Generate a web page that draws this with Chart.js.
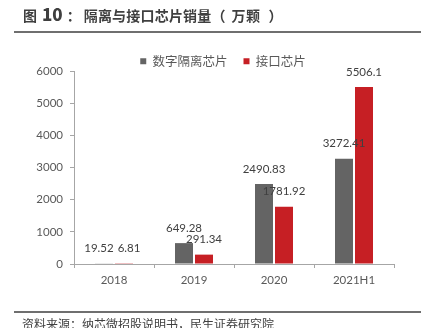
<!DOCTYPE html>
<html>
<head>
<meta charset="utf-8">
<script src="https://cdn.jsdelivr.net/npm/chart.js@4/dist/chart.umd.min.js"></script>
<style>
  html, body { margin: 0; padding: 0; background: #fff; }
  body { width: 432px; height: 328px; position: relative; overflow: hidden; }
  #title { position: absolute; left: 23px; top: 4px; font: bold 14px "Noto Sans CJK SC", sans-serif; color: #3f3f3f; white-space: nowrap; line-height: 20px; }
  #title span { display: inline-block; }
  .rule { position: absolute; left: 14px; width: 407px; height: 2px; background: #6f6f6f; }
  #source { position: absolute; left: 22px; top: 315px; font: 12px "Noto Sans CJK SC", sans-serif; color: #404040; white-space: nowrap; }
  #wrap { position: absolute; left: 0; top: 0; width: 432px; height: 328px; }
</style>
</head>
<body>
<div id="wrap"><canvas id="c" width="432" height="328"></canvas></div>
<div id="title"><span>图</span><span style="margin-left:5px;font-size:17px;font-weight:900">10</span><span style="margin-left:4px;margin-right:3px">：</span><span style="letter-spacing:0.2px">隔离与接口芯片销量</span><span style="margin-right:6px">（</span><span style="letter-spacing:0.5px">万颗</span><span style="margin-left:8px">）</span></div>
<div class="rule" style="top:31px"></div>
<div class="rule" style="top:311px"></div>
<div id="source">资料来源：纳芯微招股说明书，民生证券研究院</div>
<script>
const categories = ["2018", "2019", "2020", "2021H1"];
const seriesNames = ["数字隔离芯片", "接口芯片"];
const isolationChips = [19.52, 649.28, 2490.83, 3272.41];
const interfaceChips = [6.81, 291.34, 1781.92, 5506.1];
const yTicks = [0, 1000, 2000, 3000, 4000, 5000, 6000];

const numFont = "Lato, 'Noto Sans CJK SC', sans-serif";

const dataLabels = {
  id: "dataLabels",
  afterDatasetsDraw(chart) {
    const ctx = chart.ctx;
    ctx.save();
    ctx.font = "11.5px " + numFont;
    ctx.fillStyle = "#404040";
    ctx.textAlign = "center";
    ctx.textBaseline = "middle";
    const m0 = chart.getDatasetMeta(0), m1 = chart.getDatasetMeta(1);
    const ds = chart.data.datasets;
    categories.forEach((c, j) => {
      const t0 = String(ds[0].data[j]), t1 = String(ds[1].data[j]);
      const e0 = m0.data[j], e1 = m1.data[j];
      let x0 = e0.x, y0 = e0.y - 15, x1 = e1.x, y1 = e1.y - 15;
      const w0 = ctx.measureText(t0).width, w1 = ctx.measureText(t1).width;
      if (Math.abs(y0 - y1) < 10) {
        const ov = (x0 + w0 / 2 + 4) - (x1 - w1 / 2);
        if (ov > 0) { x0 -= ov / 2; x1 += ov / 2; }
      }
      ctx.fillText(t0, x0, y0);
      ctx.fillText(t1, x1, y1);
    });
    ctx.restore();
  }
};

const legendFix = {
  id: "legendFix",
  beforeLayout(chart) {
    const lg = chart.legend;
    if (lg && !lg._patched) {
      const orig = lg.fit;
      lg.fit = function () { orig.call(this); this.height = 32; };
      lg._patched = true;
    }
  },
  afterLayout(chart) {
    const lg = chart.legend;
    if (lg) { lg.left = 52; lg.right = chart.chartArea.right; lg.width = lg.right - lg.left; }
  }
};

new Chart(document.getElementById("c"), {
  type: "bar",
  data: {
    labels: categories,
    datasets: [
      { label: seriesNames[0], data: isolationChips, backgroundColor: "#646464", categoryPercentage: 0.5, barPercentage: 0.9 },
      { label: seriesNames[1], data: interfaceChips, backgroundColor: "#C61F24", categoryPercentage: 0.5, barPercentage: 0.9 }
    ]
  },
  options: {
    responsive: false,
    animation: false,
    devicePixelRatio: 1,
    layout: { padding: { left: 0, right: 38, top: 39, bottom: 28 } },
    plugins: {
      legend: {
        position: "top",
        labels: {
          boxWidth: 6, boxHeight: 6, padding: 16,
          color: "#595959",
          font: { family: "'Noto Sans CJK SC', sans-serif", size: 12.5 }
        }
      },
      tooltip: { enabled: false }
    },
    scales: {
      x: {
        offset: true,
        border: { color: "#a6a6a6", width: 1 },
        grid: { display: true, drawOnChartArea: false, tickLength: 4, color: "#a6a6a6", offset: true },
        ticks: { color: "#595959", font: { family: numFont, size: 11.5 }, padding: 5 },
        afterFit(s) { s.height = 36; }
      },
      y: {
        min: 0, max: 6000,
        border: { color: "#a6a6a6", width: 1 },
        grid: { display: true, drawOnChartArea: false, tickLength: 4, color: "#a6a6a6" },
        ticks: { stepSize: 1000, color: "#595959", font: { family: numFont, size: 11.5 }, padding: 7,
                 callback: (v) => yTicks.includes(v) ? String(v) : "" },
        afterFit(s) { s.width = 74; }
      }
    }
  },
  plugins: [dataLabels, legendFix]
});
</script>
</body>
</html>
